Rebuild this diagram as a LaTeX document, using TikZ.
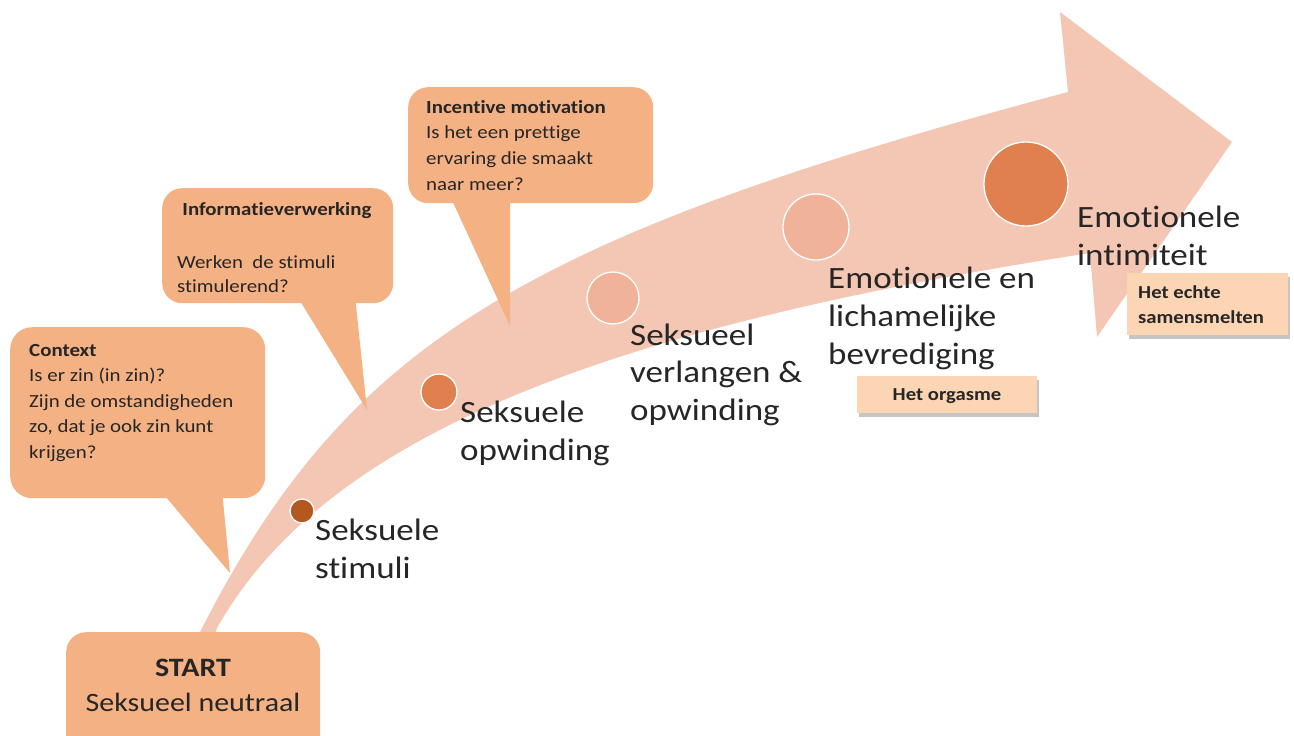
\documentclass[tikz,border=0pt]{standalone}
\usepackage{fontspec}
\setmainfont{Carlito}[FakeStretch=1.13, Ligatures=NoCommon]
\definecolor{arrowfill}{HTML}{F4C6B4}
\definecolor{callfill}{HTML}{F4B183}
\definecolor{dotdark}{HTML}{B3591F}
\definecolor{dotmid}{HTML}{E1804F}
\definecolor{dotlight}{HTML}{F0B39A}
\definecolor{tagfill}{HTML}{FCD5B5}
\definecolor{txt}{HTML}{262626}
\begin{document}
\begin{tikzpicture}[x=1pt,y=-1pt,
  dotnode/.style={circle, draw=white, line width=1.3pt, inner sep=0pt},
  callbox/.style={fill=callfill, rounded corners=22pt, anchor=north west, inner sep=0pt},
  bigtxt/.style={anchor=base west, inner sep=0pt, text=txt, font=\fontsize{31}{38}\selectfont},
  calltxt/.style={anchor=base west, inner sep=0pt, text=txt, font=\fontsize{18.5}{25.5}\selectfont},
  tagbox/.style={fill=tagfill, anchor=north west, inner sep=0pt},
  tagshadow/.style={fill=black!45, opacity=0.5, anchor=north west, inner sep=0pt},
  tagtxt/.style={inner sep=0pt, text=txt, font=\fontsize{18.3}{25}\selectfont\bfseries}
]
\useasboundingbox (0,0) rectangle (1294,736);
\clip (0,0) rectangle (1294,736);

% curved arrow
\fill[arrowfill] (200,632) .. controls (346,345) and (519,238) .. (1068,92)
  -- (1060,12) -- (1232,142) -- (1097,337) -- (1090,253)
  .. controls (582,331) and (321,444) .. (217,628) -- (207,660) -- cycle;

% stage dots
\node[dotnode, fill=dotdark,  minimum size=24pt] (d1) at (302,511) {};
\node[dotnode, fill=dotmid,   minimum size=36pt] (d2) at (439,392) {};
\node[dotnode, fill=dotlight, minimum size=52pt] (d3) at (613,298) {};
\node[dotnode, fill=dotlight, minimum size=66pt] (d4) at (816,227) {};
\node[dotnode, fill=dotmid,   minimum size=84pt] (d5) at (1026,184) {};

% callout: Context
\node[callbox, minimum width=255pt, minimum height=171pt] (ctx) at (10,327) {};
\coordinate (ctxTip) at (230,573);
\fill[callfill] (160,490) -- (ctxTip) -- (222,490) -- cycle;
% callout: Informatieverwerking
\node[callbox, rounded corners=20pt, minimum width=231pt, minimum height=115pt] (inf) at (162,188) {};
\coordinate (infTip) at (367,410);
\fill[callfill] (297,296) -- (infTip) -- (355,296) -- cycle;
% callout: Incentive motivation
\node[callbox, rounded corners=20pt, minimum width=245pt, minimum height=116pt] (inc) at (408,87) {};
\coordinate (incTip) at (510,326);
\fill[callfill] (450,196) -- (incTip) -- (510,196) -- cycle;

% START box
\node[callbox, rounded corners=20pt, minimum width=254pt, minimum height=130pt] (start) at (66,632) {};
\node[inner sep=0pt, anchor=base, text=txt, font=\fontsize{26.5}{31}\selectfont\bfseries] (startA) at (193,676) {START};
\node[inner sep=0pt, anchor=base, text=txt, font=\fontsize{26.5}{31}\selectfont] (startB) at (193,711) {Seksueel neutraal};

% callout texts
\node[calltxt] (ctxT) at (29,356) {\parbox[t]{260pt}{\textbf{Context}\\Is er zin (in zin)?\\Zijn de omstandigheden\\zo, dat je ook zin kunt\\krijgen?}};
\node[calltxt, anchor=base] (infA) at (277,215) {\textbf{Informatieverwerking}};
\node[calltxt, font=\fontsize{18.5}{24.5}\selectfont] (infB) at (177,268) {\parbox[t]{240pt}{Werken\ \ de stimuli\\stimulerend?}};
\node[calltxt, font=\fontsize{18.5}{25.7}\selectfont] (incT) at (426,113) {\parbox[t]{240pt}{\textbf{Incentive motivation}\\Is het een prettige\\ervaring die smaakt\\naar meer?}};

% stage labels
\node[bigtxt] (l1) at (315,540) {\parbox[t]{300pt}{Seksuele\\stimuli}};
\node[bigtxt] (l2) at (460,422) {\parbox[t]{300pt}{Seksuele\\opwinding}};
\node[bigtxt, font=\fontsize{31}{37.5}\selectfont] (l3) at (630,345) {\parbox[t]{300pt}{Seksueel\\verlangen \&\\opwinding}};
\node[bigtxt] (l4) at (828,288) {\parbox[t]{300pt}{Emotionele en\\lichamelijke\\bevrediging}};
\node[bigtxt] (l5) at (1077,227) {\parbox[t]{300pt}{Emotionele\\intimiteit}};

% tags
\node[tagshadow, minimum width=180pt, minimum height=37pt] (orgS) at (859,380) {};
\node[tagbox, minimum width=180pt, minimum height=37pt] (org) at (857,376) {};
\node[tagtxt, anchor=base] (orgT) at (947,400) {Het orgasme};
\node[tagshadow, minimum width=161pt, minimum height=62pt] (samS) at (1129,277) {};
\node[tagbox, minimum width=161pt, minimum height=62pt] (sam) at (1127,273) {};
\node[tagtxt, anchor=base west] (samT) at (1138,298) {\parbox[t]{150pt}{Het echte\\samensmelten}};
\end{tikzpicture}
\end{document}
